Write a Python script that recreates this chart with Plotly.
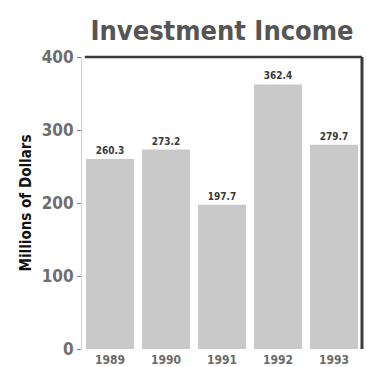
import plotly.graph_objects as go

# Investment income by year, millions of dollars
years = ["1989", "1990", "1991", "1992", "1993"]
income = [260.3, 273.2, 197.7, 362.4, 279.7]
y_ticks = [0, 100, 200, 300, 400]

FONT = "DejaVu Sans Condensed, DejaVu Sans, sans-serif"


def narrow(s):
    # condensed face for every label
    return f'<span style="font-stretch:condensed">{s}</span>'


fig = go.Figure()
fig.add_trace(go.Bar(
    x=years,
    y=income,
    marker=dict(
        color="#c6c6c6",
        line=dict(width=0),
        pattern=dict(shape="x", size=3, solidity=0.2, fgcolor="#b8b8b8", bgcolor="#cacaca"),
    ),
    text=[narrow(f"{v:.1f}") for v in income],
    textposition="outside",
    textfont=dict(family=FONT, size=10, color="#3a3a3a", weight="bold"),
    cliponaxis=False,
))

fig.update_layout(
    width=367, height=367,
    margin=dict(l=82, r=5, t=57, b=18),
    paper_bgcolor="white", plot_bgcolor="white",
    bargap=0.143,
    showlegend=False,
    title=dict(
        text=narrow("Investment Income"),
        x=0.605, xanchor="center", y=0.918, yanchor="middle",
        font=dict(family=FONT, size=27, color="#555555", weight="bold"),
    ),
    xaxis=dict(
        type="category",
        tickvals=years,
        ticktext=[narrow(y) for y in years],
        showline=False, showgrid=False, ticks="",
        automargin=False,
        ticklabelstandoff=2,
        tickfont=dict(family=FONT, size=12, color="#6a6a6a", weight="bold"),
    ),
    yaxis=dict(
        range=[0, 400],
        tickvals=y_ticks,
        ticktext=[narrow(str(t)) for t in y_ticks],
        showgrid=False, zeroline=False,
        automargin=False,
        showline=True, linecolor="#d0d0d0", linewidth=1,
        ticks="outside", ticklen=4, tickcolor="#888888",
        tickfont=dict(family=FONT, size=17, color="#6e6e6e", weight="bold"),
        title=dict(
            text=narrow("Millions of Dollars"), standoff=6,
            font=dict(family=FONT, size=15, color="#111111", weight="bold"),
        ),
    ),
)

# Dark frame on the top and right of the plotting area
fig.add_shape(type="line", xref="paper", yref="paper", x0=0.01, x1=1.0, y0=1.0, y1=1.0,
              line=dict(color="#3a3a3a", width=2.5))
fig.add_shape(type="line", xref="paper", yref="paper", x0=1.0, x1=1.0, y0=1.0, y1=0.0,
              line=dict(color="#3a3a3a", width=3))

fig.write_html("out.html")
